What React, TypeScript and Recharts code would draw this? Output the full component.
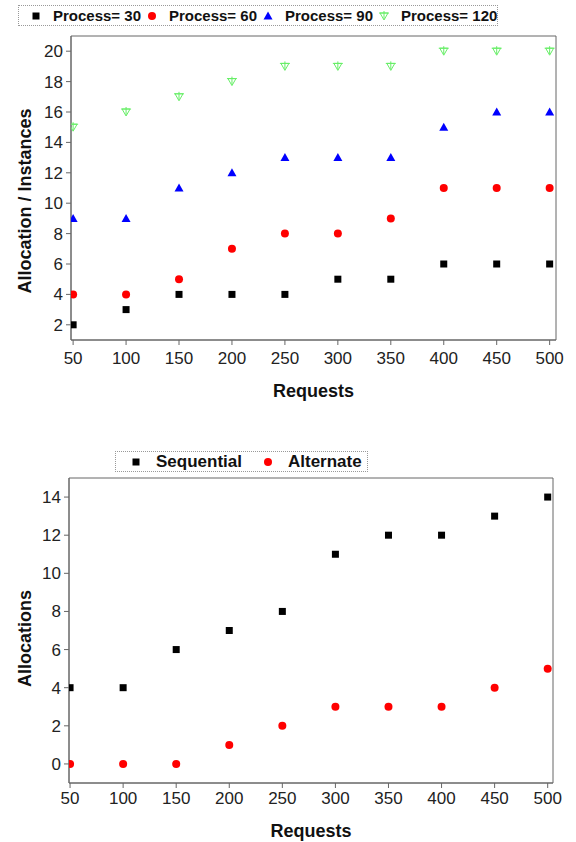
import React from "react";
import { ScatterChart, Scatter, XAxis, YAxis, ReferenceArea, Label } from "recharts";

// x categories (number of requests)
const requests = [50, 100, 150, 200, 250, 300, 350, 400, 450, 500];

// top chart: allocation / instances per process count
const process30 = [2, 3, 4, 4, 4, 5, 5, 6, 6, 6];
const process60 = [4, 4, 5, 7, 8, 8, 9, 11, 11, 11];
const process90 = [9, 9, 11, 12, 13, 13, 13, 15, 16, 16];
const process120 = [15, 16, 17, 18, 19, 19, 19, 20, 20, 20];

// bottom chart: allocations
const sequential = [4, 4, 6, 7, 8, 11, 12, 12, 13, 14];
const alternate = [0, 0, 0, 1, 2, 3, 3, 3, 4, 5];

const xTicks = [50, 100, 150, 200, 250, 300, 350, 400, 450, 500];
const xMinorTicks = [75, 125, 175, 225, 275, 325, 375, 425, 475];
const topYTicks = [2, 4, 6, 8, 10, 12, 14, 16, 18, 20];
const topYMinorTicks = [1, 3, 5, 7, 9, 11, 13, 15, 17, 19, 21];
const bottomYTicks = [0, 2, 4, 6, 8, 10, 12, 14];
const bottomYMinorTicks = [-1, 1, 3, 5, 7, 9, 11, 13, 15];

const toPoints = (ys: number[]) => requests.map((x, i) => ({ x, y: ys[i] }));

const AXIS = "#666";
const TICK_TEXT = "#222";

// marker shapes
const SquareDot = (p: any) => (
  <rect x={p.cx - 3.5} y={p.cy - 3.5} width={7} height={7} fill="#000" />
);
const CircleDot = (p: any) => <circle cx={p.cx} cy={p.cy} r={4} fill="#ff0000" />;
const TriUp = (p: any) => (
  <path
    d={`M${p.cx},${p.cy - 4.5} L${p.cx + 4.5},${p.cy + 3.5} L${p.cx - 4.5},${p.cy + 3.5} Z`}
    fill="#0000ff"
  />
);
const TriDownOpen = (p: any) => {
  const { cx, cy } = p;
  return (
    <g stroke="#66ee66" fill="none" strokeWidth={1}>
      <path d={`M${cx - 4},${cy - 3} L${cx + 4},${cy - 3} L${cx},${cy + 4} Z`} />
      <line x1={cx} y1={cy - 5} x2={cx} y2={cy + 3} />
      <line x1={cx - 5} y1={cy - 3} x2={cx + 5} y2={cy - 3} />
    </g>
  );
};

const yLabel = (text: string, shift: number) => (props: any) => {
  const vb = props.viewBox;
  const cx = vb.x + 25;
  const cy = vb.y + vb.height / 2 + shift;
  return (
    <text
      x={cx}
      y={cy}
      transform={`rotate(-90 ${cx} ${cy})`}
      textAnchor="middle"
      dominantBaseline="central"
      fontSize={18}
      fontWeight="bold"
      fill="#111"
    >
      {text}
    </text>
  );
};

type LegendItem = { name: string; shape: (p: any) => React.ReactElement };

function LegendBox({
  items,
  left,
  top,
  width,
  itemWidth,
  fontSize,
  pad,
  gap,
}: {
  items: LegendItem[];
  left: number;
  top: number;
  width: number;
  itemWidth: number;
  fontSize: number;
  pad: number;
  gap: number;
}) {
  return (
    <div
      style={{
        position: "absolute",
        left,
        top,
        width,
        height: 21,
        border: "1px dotted #999",
        boxSizing: "border-box",
        display: "flex",
        alignItems: "center",
        fontWeight: "bold",
        fontSize,
        color: "#111",
        background: "#fff",
      }}
    >
      {items.map((it) => (
        <div
          key={it.name}
          style={{
            width: itemWidth,
            flexShrink: 0,
            display: "flex",
            alignItems: "center",
            paddingLeft: pad,
            boxSizing: "border-box",
            whiteSpace: "nowrap",
          }}
        >
          <svg width={12} height={12} style={{ flexShrink: 0 }}>
            {it.shape({ cx: 6, cy: 6 })}
          </svg>
          <span style={{ marginLeft: gap }}>{it.name}</span>
        </div>
      ))}
    </div>
  );
}

export default function App() {
  return (
    <div
      style={{
        position: "absolute",
        left: 0,
        top: 0,
        width: 576,
        height: 842,
        background: "#fff",
        fontFamily: "'Liberation Sans', Arial, sans-serif",
      }}
    >
      <div style={{ position: "absolute", left: 0, top: 0 }}>
        <ScatterChart width={576} height={420} margin={{ top: 36, right: 20, bottom: 20, left: 0 }}>
          <XAxis
            xAxisId="minor"
            type="number"
            dataKey="x"
            domain={[48, 506]}
            ticks={xMinorTicks}
            tick={false}
            tickSize={3}
            height={0}
            axisLine={false}
            tickLine={{ stroke: AXIS }}
            allowDataOverflow
          />
          <XAxis
            xAxisId="main"
            type="number"
            dataKey="x"
            domain={[48, 506]}
            ticks={xTicks}
            tickSize={5}
            tickMargin={7}
            height={60}
            tick={{ fontSize: 17, fill: TICK_TEXT }}
            axisLine={{ stroke: AXIS }}
            tickLine={{ stroke: AXIS }}
            allowDataOverflow
          >
            <Label value="Requests" position="insideBottom" offset={3} fontSize={18} fontWeight="bold" fill="#111" />
          </XAxis>
          <YAxis
            yAxisId="minor"
            type="number"
            dataKey="y"
            domain={[1, 21]}
            ticks={topYMinorTicks}
            tick={false}
            tickSize={3}
            width={0}
            axisLine={false}
            tickLine={{ stroke: AXIS }}
            allowDataOverflow
          />
          <YAxis
            yAxisId="main"
            type="number"
            dataKey="y"
            domain={[1, 21]}
            ticks={topYTicks}
            tickSize={5}
            tickMargin={3}
            width={71}
            tick={{ fontSize: 17, fill: TICK_TEXT }}
            axisLine={{ stroke: AXIS }}
            tickLine={{ stroke: AXIS }}
            allowDataOverflow
          >
            <Label content={yLabel("Allocation / Instances", 13)} />
          </YAxis>
          <ReferenceArea xAxisId="main" yAxisId="main" x1={48} x2={506} y1={1} y2={21} fill="none" stroke={AXIS} />
          <Scatter xAxisId="main" yAxisId="main" name="Process= 30" data={toPoints(process30)} shape={SquareDot} isAnimationActive={false} />
          <Scatter xAxisId="main" yAxisId="main" name="Process= 60" data={toPoints(process60)} shape={CircleDot} isAnimationActive={false} />
          <Scatter xAxisId="main" yAxisId="main" name="Process= 90" data={toPoints(process90)} shape={TriUp} isAnimationActive={false} />
          <Scatter xAxisId="main" yAxisId="main" name="Process= 120" data={toPoints(process120)} shape={TriDownOpen} isAnimationActive={false} />
        </ScatterChart>
      </div>
      <LegendBox
        left={18}
        top={5}
        width={480}
        itemWidth={116}
        fontSize={15}
        pad={11}
        gap={11}
        items={[
          { name: "Process= 30", shape: SquareDot },
          { name: "Process= 60", shape: CircleDot },
          { name: "Process= 90", shape: TriUp },
          { name: "Process= 120", shape: TriDownOpen },
        ]}
      />

      <div style={{ position: "absolute", left: 0, top: 440 }}>
        <ScatterChart width={576} height={402} margin={{ top: 38, right: 23, bottom: 4, left: 0 }}>
          <XAxis
            xAxisId="minor"
            type="number"
            dataKey="x"
            domain={[49, 505]}
            ticks={xMinorTicks}
            tick={false}
            tickSize={3}
            height={0}
            axisLine={false}
            tickLine={{ stroke: AXIS }}
            allowDataOverflow
          />
          <XAxis
            xAxisId="main"
            type="number"
            dataKey="x"
            domain={[49, 505]}
            ticks={xTicks}
            tickSize={5}
            tickMargin={4}
            height={55}
            tick={{ fontSize: 17, fill: TICK_TEXT }}
            axisLine={{ stroke: AXIS }}
            tickLine={{ stroke: AXIS }}
            allowDataOverflow
          >
            <Label value="Requests" position="insideBottom" offset={1} fontSize={18} fontWeight="bold" fill="#111" />
          </XAxis>
          <YAxis
            yAxisId="minor"
            type="number"
            dataKey="y"
            domain={[-1, 15]}
            ticks={bottomYMinorTicks}
            tick={false}
            tickSize={3}
            width={0}
            axisLine={false}
            tickLine={{ stroke: AXIS }}
            allowDataOverflow
          />
          <YAxis
            yAxisId="main"
            type="number"
            dataKey="y"
            domain={[-1, 15]}
            ticks={bottomYTicks}
            tickSize={5}
            tickMargin={3}
            width={69}
            tick={{ fontSize: 17, fill: TICK_TEXT }}
            axisLine={{ stroke: AXIS }}
            tickLine={{ stroke: AXIS }}
            allowDataOverflow
          >
            <Label content={yLabel("Allocations", 8)} />
          </YAxis>
          <ReferenceArea xAxisId="main" yAxisId="main" x1={49} x2={505} y1={-1} y2={15} fill="none" stroke={AXIS} />
          <Scatter xAxisId="main" yAxisId="main" name="Sequential" data={toPoints(sequential)} shape={SquareDot} isAnimationActive={false} />
          <Scatter xAxisId="main" yAxisId="main" name="Alternate" data={toPoints(alternate)} shape={CircleDot} isAnimationActive={false} />
        </ScatterChart>
      </div>
      <LegendBox
        left={115}
        top={451}
        width={253}
        itemWidth={132}
        fontSize={17}
        pad={14}
        gap={14}
        items={[
          { name: "Sequential", shape: SquareDot },
          { name: "Alternate", shape: CircleDot },
        ]}
      />
    </div>
  );
}
